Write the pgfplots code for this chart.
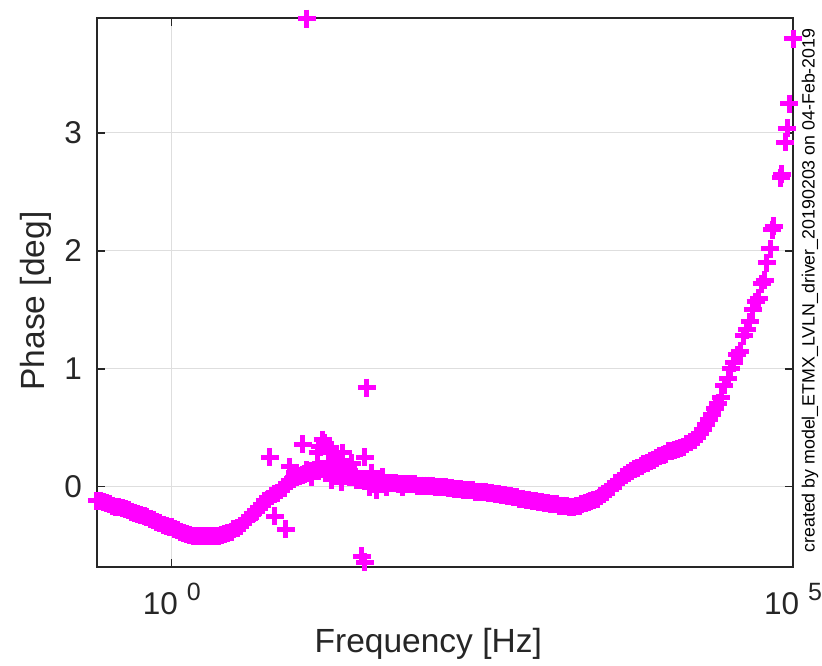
\documentclass[border=0pt]{standalone}
\usepackage{pgfplots}
\pgfplotsset{compat=1.18}
\usepackage{pgfplotstable}
\usepackage{fontspec}
\setmainfont{Liberation Sans}
\definecolor{mag}{RGB}{255,0,255}
\definecolor{axgray}{RGB}{38,38,38}
\definecolor{gridgray}{RGB}{222,222,222}

\pgfplotstableread{
f phase
0.25 -0.12
0.28 -0.13
0.315 -0.15
0.355 -0.17
0.4 -0.18
0.45 -0.20
0.5 -0.22
0.56 -0.24
0.63 -0.26
0.71 -0.28
0.8 -0.31
0.9 -0.33
1.0 -0.34
1.12 -0.37
1.25 -0.39
1.4 -0.41
1.6 -0.42
1.8 -0.42
2.0 -0.42
2.24 -0.42
2.5 -0.41
2.8 -0.39
3.15 -0.36
3.55 -0.33
4.0 -0.28
4.5 -0.23
5.0 -0.18
5.6 -0.12
6.3 -0.08
7.1 -0.05
8.0 -0.01
9.0 0.05
10 0.08
11.2 0.10
12.5 0.12
14 0.14
16 0.15
18 0.15
20 0.14
22.4 0.12
25 0.10
28 0.08
31.5 0.07
35.5 0.05
40 0.04
45 0.04
50 0.03
56 0.03
63 0.03
71 0.02
80 0.02
90 0.02
100 0.01
112 0.01
125 0.01
140 0.00
160 0.00
180 -0.01
200 -0.02
224 -0.03
250 -0.03
280 -0.04
315 -0.04
355 -0.05
400 -0.06
450 -0.07
500 -0.08
560 -0.09
630 -0.10
710 -0.11
800 -0.12
900 -0.13
1000 -0.14
1120 -0.15
1250 -0.15
1400 -0.16
1600 -0.17
1800 -0.16
2000 -0.15
2240 -0.13
2500 -0.11
2800 -0.08
3150 -0.04
3550 0.00
4000 0.05
4500 0.10
5000 0.13
5600 0.16
6300 0.19
7100 0.22
8000 0.24
9000 0.27
10000 0.30
10600 0.30
11200 0.31
11800 0.32
12500 0.33
13200 0.34
14000 0.36
15000 0.38
16000 0.40
17000 0.42
18000 0.45
19000 0.49
20000 0.53
21200 0.57
22400 0.61
23600 0.66
25000 0.71
26500 0.76
28000 0.86
30000 0.92
31500 1.00
33500 1.05
35500 1.12
37500 1.15
40000 1.28
42500 1.33
45000 1.40
47500 1.50
50000 1.57
53000 1.60
56000 1.72
59000 1.75
61600 1.90
65300 2.02
67800 2.18
69700 2.21
80000 2.62
81500 2.65
86300 2.92
89500 3.04
92900 3.25
100000 3.80
}\bandtable

\pgfplotstableread{
f phase
0.265 -0.12
0.3 -0.14
0.335 -0.16
0.375 -0.17
0.425 -0.19
0.475 -0.21
0.53 -0.23
0.6 -0.25
0.67 -0.27
0.75 -0.30
0.85 -0.32
0.95 -0.34
1.06 -0.36
1.18 -0.38
1.32 -0.40
1.5 -0.42
1.7 -0.42
1.9 -0.42
2.12 -0.42
2.36 -0.42
2.65 -0.40
3.0 -0.38
3.35 -0.35
3.75 -0.31
4.25 -0.26
4.75 -0.21
5.3 -0.15
6.0 -0.10
6.7 -0.06
7.5 -0.03
8.5 0.02
9.5 0.07
10.6 0.09
11.8 0.11
13.2 0.13
15 0.14
17 0.15
19 0.15
21.2 0.13
23.6 0.11
26.5 0.09
30 0.08
33.5 0.06
37.5 0.05
42.5 0.04
47.5 0.03
53 0.03
60 0.03
67 0.02
75 0.02
85 0.02
95 0.01
106 0.01
118 0.01
132 0.00
150 0.00
170 -0.01
190 -0.02
212 -0.02
236 -0.03
265 -0.03
300 -0.04
335 -0.04
375 -0.05
425 -0.06
475 -0.07
530 -0.08
600 -0.09
670 -0.10
750 -0.11
850 -0.12
950 -0.13
1060 -0.14
1180 -0.15
1320 -0.16
1500 -0.16
1700 -0.17
1900 -0.16
2120 -0.14
2360 -0.12
2650 -0.10
3000 -0.06
3350 -0.02
3750 0.03
4250 0.08
4750 0.12
5300 0.15
6000 0.18
6700 0.20
7500 0.23
8500 0.26
9500 0.28
}\bandtableb

\pgfplotstableread{
f phase
12.2 3.97
6.15 0.25
6.75 -0.25
8.28 -0.36
11.35 0.36
16.4 0.40
37.2 0.84
35.8 0.25
33.9 -0.59
35.8 -0.64
8.9 0.17
9.8 0.12
12.2 0.14
13.4 0.08
15.0 0.29
15.6 0.34
17.1 0.37
18.7 0.33
20.5 0.25
22.5 0.20
23.8 0.29
25.6 0.17
28.1 0.20
29.7 0.12
30.9 0.06
21.3 0.12
19.4 0.06
23.4 0.04
27.1 0.08
40.7 0.12
39.3 0.00
44.7 -0.03
50.0 0.08
53.8 0.00
60.1 0.03
72.4 0.00
}\scattertable

\begin{document}
\begin{tikzpicture}
\useasboundingbox (0,0) rectangle (822pt,665pt);
\begin{axis}[
  at={(97pt,98pt)}, anchor=south west,
  scale only axis, width=696pt, height=549pt,
  xmode=log, xmin=0.25, xmax=100000,
  ymin=-0.68, ymax=3.975,
  xtick={1,100000},
  xticklabels={{10\hspace{9pt}\raisebox{14pt}{\fontsize{25}{25}\selectfont 0}},{10\hspace{9pt}\raisebox{14pt}{\fontsize{25}{25}\selectfont 5}}},
  ytick={0,1,2,3},
  yticklabels={0,1,2,3},
  grid=major,
  major grid style={gridgray, line width=1pt},
  axis line style={axgray, line width=1.3pt},
  tick style={axgray, line width=1.3pt},
  major tick length=8pt,
  tick align=inside,
  tick label style={font=\fontsize{31.5}{36}\selectfont, text=axgray},
  yticklabel style={anchor=east, inner sep=0pt, xshift=-15pt},
  xticklabel style={anchor=base, inner sep=0pt, yshift=-47pt},
  label style={font=\fontsize{33.5}{40}\selectfont, text=axgray},
  xlabel={Frequency [Hz]},
  ylabel={Phase [deg]},
  xlabel style={at={(axis description cs:0.476,-0.1566)}, anchor=base},
  ylabel style={at={(axis description cs:-0.088,0.4845)}, anchor=center},
  clip=false,
]
\addplot[only marks, mark=+, mark size=9pt, color=mag, line width=5pt] table[x=f, y=phase] {\bandtable};
\addplot[only marks, mark=+, mark size=9pt, color=mag, line width=5pt] table[x=f, y=phase] {\bandtableb};
\addplot[only marks, mark=+, mark size=9pt, color=mag, line width=5pt] table[x=f, y=phase] {\scattertable};
\end{axis}
\node[rotate=90, font=\fontsize{17.8}{20}\selectfont, text=black] at (810pt,374.5pt) {created by model\_ETMX\_LVLN\_driver\_20190203 on 04-Feb-2019};
\end{tikzpicture}
\end{document}
